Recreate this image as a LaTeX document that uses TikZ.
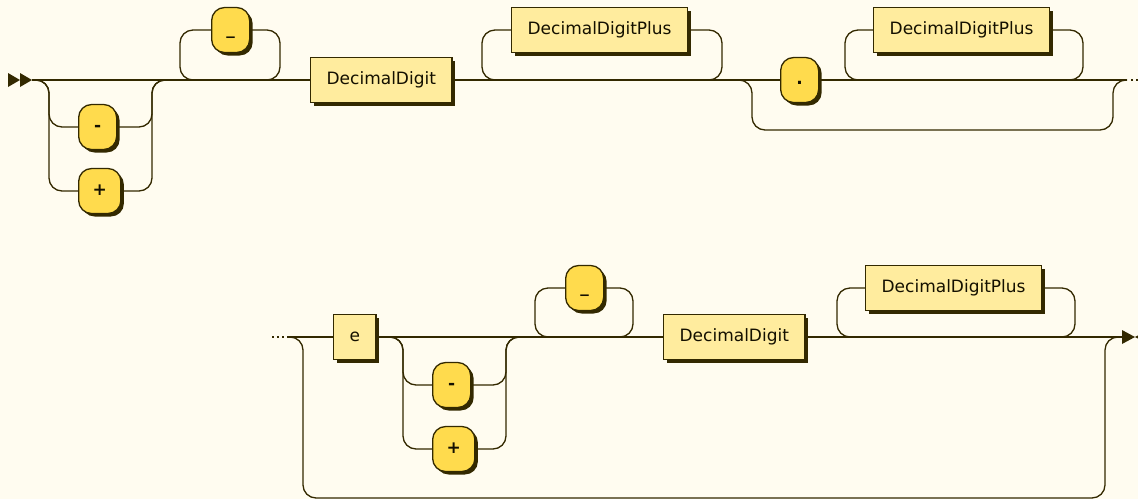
\documentclass[tikz,border=0pt]{standalone}
\usepackage{fontspec}
\setmainfont{DejaVu Sans}
\usetikzlibrary{shadows}
\definecolor{rrline}{HTML}{332900}
\definecolor{rrback}{HTML}{FFFCF0}
\definecolor{rrterm}{HTML}{FFDB4D}
\definecolor{rrnonterm}{HTML}{FFEC9E}
\definecolor{rrtext}{HTML}{141000}

\tikzset{
  rail/.style={draw=rrline, line width=1.3pt, rounded corners=13pt},
  dots/.style={draw=rrline, line width=1.3pt, dash pattern=on 2pt off 3pt},
  box/.style={draw=rrline, line width=1.3pt, minimum height=45pt, anchor=west,
    text height=12pt, text depth=4pt, text=rrtext,
    drop shadow={shadow xshift=3pt, shadow yshift=-3pt, fill=rrline, opacity=1}},
  term/.style={box, fill=rrterm, rounded corners=13pt, minimum width=38pt,
    inner xsep=14pt, font=\fontsize{17pt}{20pt}\selectfont\bfseries},
  nonterm/.style={box, fill=rrnonterm, sharp corners, inner xsep=16pt},
}

\begin{document}
\begin{tikzpicture}[x=1pt, y=-1pt, font=\fontsize{17pt}{20pt}\selectfont]
        \clip (0,0) rectangle (1138,499);
        \fill[rrback] (0,0) rectangle (1138,499);

        % nodes %
        \coordinate (start) at (32,80);
        \coordinate (end1) at (1127,80);
        \node[term] (m1) at (78,127) {-};
        \node[term] (p1) at (78,191) {+};
        \node[term] (u1) at (211,30) {\_};
        \node[nonterm] (dd1) at (310,80) {DecimalDigit};
        \node[nonterm] (ddp1) at (511,30) {DecimalDigitPlus};
        \node[term] (dot) at (780,80) {.};
        \node[nonterm] (ddp2) at (873,30) {DecimalDigitPlus};

        \coordinate (cont) at (288,337);
        \coordinate (fin) at (1122,337);
        \node[nonterm] (e) at (333,337) {e};
        \node[term] (m2) at (432,385) {-};
        \node[term] (p2) at (432,449) {+};
        \node[term] (u2) at (565,288) {\_};
        \node[nonterm] (dd2) at (663,337) {DecimalDigit};
        \node[nonterm] (ddp3) at (865,288) {DecimalDigitPlus};

        % edges, first row %
        \fill[rrline] (8,73) -- (20,80) -- (8,87) -- cycle;
        \fill[rrline] (20,73) -- (32,80) -- (20,87) -- cycle;
        \draw[rail] (start) -- (dd1.west);
        \draw[rail] (dd1.east) -- (dot.west);
        \draw[rail] (dot.east) -- (end1);
        \draw[dots] (1131,80) -- (1138,80);
        % sign
        \draw[rail] (start) -| (49,127) -- (m1.west);
        \draw[rail] (start) -| (49,191) -- (p1.west);
        \draw[rail] (m1.east) -| (152,80) -- (166,80);
        \draw[rail] (p1.east) -| (152,80) -- (166,80);
        % underscore
        \draw[rail] (194,80) -| (180,30) -- (u1.west);
        \draw[rail] (u1.east) -| (280,80) -- (266,80);
        \draw[rail] (496,80) -| (482,30) -- (ddp1.west);
        \draw[rail] (ddp1.east) -| (722,80) -- (708,80);
        % fraction
        \draw[rail] (738,80) -| (752,130) -| (1113,80) -- (end1);
        \draw[rail] (859,80) -| (845,30) -- (ddp2.west);
        \draw[rail] (ddp2.east) -| (1083,80) -- (1069,80);

        % edges, second row %
        \draw[dots] (272,337) -- (cont);
        \draw[rail] (cont) -- (e.west);
        \draw[rail] (e.east) -- (dd2.west);
        \draw[rail] (dd2.east) -- (fin);
        \draw[rail] (cont) -| (303,498) -| (1105,337) -- (fin);
        \draw[rail] (389,337) -| (403,385) -- (m2.west);
        \draw[rail] (389,337) -| (403,449) -- (p2.west);
        \draw[rail] (m2.east) -| (506,337) -- (520,337);
        \draw[rail] (p2.east) -| (506,337) -- (520,337);
        \draw[rail] (549,337) -| (535,288) -- (u2.west);
        \draw[rail] (u2.east) -| (633,337) -- (619,337);
        \draw[rail] (851,337) -| (837,288) -- (ddp3.west);
        \draw[rail] (ddp3.east) -| (1075,337) -- (1061,337);
        \fill[rrline] (1122,330) -- (1135,337) -- (1122,344) -- cycle;
        \fill[rrline] (1148,330) -- (1135,337) -- (1148,344) -- cycle;
      \end{tikzpicture}
\end{document}
